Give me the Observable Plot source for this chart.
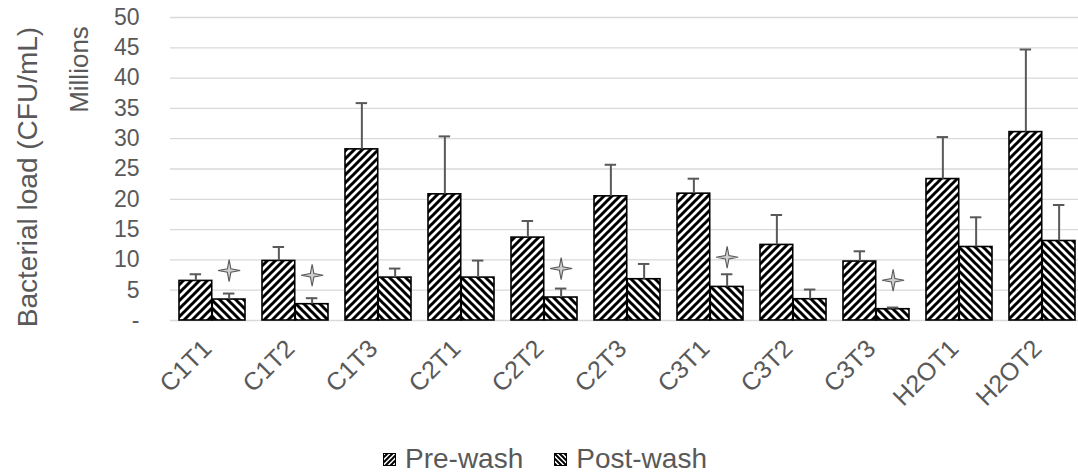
<!DOCTYPE html>
<html>
<head>
<meta charset="utf-8">
<script src="https://cdn.jsdelivr.net/npm/d3@7"></script>
<script src="https://cdn.jsdelivr.net/npm/@observablehq/plot@0.6"></script>
<style>
  html, body { margin: 0; padding: 0; background: #fff; }
  body { width: 1078px; height: 474px; position: relative; overflow: hidden; font-family: "Liberation Sans", Arial, sans-serif; }
  #legend { position: absolute; left: 383px; top: 443px; display: flex; align-items: center; color: #595959; font-size: 28px; white-space: nowrap; }
  #legend .item { display: flex; align-items: center; }
  #legend svg { display: block; margin-right: 9px; }
</style>
</head>
<body>
<svg width="0" height="0" style="position:absolute">
  <defs>
    <pattern id="hatchPre" patternUnits="userSpaceOnUse" width="8" height="8">
      <rect width="8" height="8" fill="#fff"/>
      <path d="M-2,2 l4,-4 M0,8 l8,-8 M6,10 l4,-4" stroke="#000" stroke-width="3"/>
    </pattern>
    <pattern id="hatchPost" patternUnits="userSpaceOnUse" width="8" height="8">
      <rect width="8" height="8" fill="#fff"/>
      <path d="M-2,6 l4,4 M0,0 l8,8 M6,-2 l4,4" stroke="#000" stroke-width="3"/>
    </pattern>
    <pattern id="hatchPreS" patternUnits="userSpaceOnUse" width="5" height="5">
      <rect width="5" height="5" fill="#fff"/>
      <path d="M-1,1 l2,-2 M0,5 l5,-5 M4,6 l2,-2" stroke="#000" stroke-width="2"/>
    </pattern>
    <pattern id="hatchPostS" patternUnits="userSpaceOnUse" width="5" height="5">
      <rect width="5" height="5" fill="#fff"/>
      <path d="M-1,4 l2,2 M0,0 l5,5 M4,-1 l2,2" stroke="#000" stroke-width="2"/>
    </pattern>
  </defs>
</svg>
<div id="chart"></div>
<div id="legend">
  <div class="item"><svg width="13" height="13"><rect x="0.5" y="0.5" width="12" height="12" fill="url(#hatchPreS)" stroke="#000"/></svg><span>Pre-wash</span></div>
  <div class="item" style="margin-left:31px"><svg width="13" height="13"><rect x="0.5" y="0.5" width="12" height="12" fill="url(#hatchPostS)" stroke="#000"/></svg><span>Post-wash</span></div>
</div>
<script>
const categories = ["C1T1","C1T2","C1T3","C2T1","C2T2","C2T3","C3T1","C3T2","C3T3","H2OT1","H2OT2"];
const preWash   = [6.53, 9.83, 28.24, 20.82, 13.68, 20.49, 20.93, 12.47, 9.73, 23.34, 31.09];
const preErr    = [1.10, 2.30, 7.63, 9.56, 2.74, 5.21, 2.47, 4.94, 1.69, 6.93, 13.63];
const postWash  = [3.46, 2.69, 7.08, 7.08, 3.79, 6.81, 5.54, 3.51, 1.86, 12.13, 13.12];
const postErr   = [0.99, 0.99, 1.49, 2.81, 1.48, 2.52, 2.09, 1.60, 0.28, 4.90, 5.94];
const starCats   = ["C1T1","C1T2","C2T2","C3T1","C3T3"];
const starValues = [8.24, 7.47, 8.57, 10.44, 6.64];
const yTicks = [0,5,10,15,20,25,30,35,40,45,50];

const data = categories.map((c, i) => ({cat: c, pre: preWash[i], preErr: preErr[i], post: postWash[i], postErr: postErr[i]}));
const stars = starCats.map((c, i) => ({cat: c, v: starValues[i]}));

// band geometry
const xRange = [170, 1085];
const paddingInner = 0.2, paddingOuter = 0.1;
const step = (xRange[1] - xRange[0]) / (categories.length - paddingInner + 2 * paddingOuter);
const bw = step * (1 - paddingInner);
const q = bw / 4;
const capHalf = 6;

const star4 = {
  draw(ctx, size) {
    const R = Math.sqrt(size / Math.PI);
    const r = R * 0.16;
    ctx.moveTo(0, -R); ctx.lineTo(r, -r); ctx.lineTo(R, 0); ctx.lineTo(r, r);
    ctx.lineTo(0, R); ctx.lineTo(-r, r); ctx.lineTo(-R, 0); ctx.lineTo(-r, -r); ctx.closePath();
  }
};

const textColor = "#595959";
const errColor = "#595959";

const chart = Plot.plot({
  width: 1078,
  height: 442,
  marginLeft: 170,
  marginRight: 0,
  marginTop: 17,
  marginBottom: 122,
  style: {fontFamily: "'Liberation Sans', Arial, sans-serif", color: textColor, background: "#fff"},
  x: {domain: categories, range: xRange, paddingInner, paddingOuter, align: 0.5},
  y: {domain: [0, 50], range: [320, 17]},
  marks: [
    Plot.ruleY(yTicks, {stroke: "#d9d9d9", strokeWidth: 1.3}),
    Plot.barY(data, {x: "cat", y: "pre", fill: "url(#hatchPre)", stroke: "#000", strokeWidth: 1.6, insetRight: bw / 2}),
    Plot.barY(data, {x: "cat", y: "post", fill: "url(#hatchPost)", stroke: "#000", strokeWidth: 1.6, insetLeft: bw / 2}),
    Plot.ruleX(data, {x: "cat", y1: "pre", y2: d => d.pre + d.preErr, dx: -q, stroke: errColor, strokeWidth: 2}),
    Plot.tickY(data, {x: "cat", y: d => d.pre + d.preErr, insetLeft: q - capHalf, insetRight: 3 * q - capHalf, stroke: errColor, strokeWidth: 2}),
    Plot.ruleX(data, {x: "cat", y1: "post", y2: d => d.post + d.postErr, dx: q, stroke: errColor, strokeWidth: 2}),
    Plot.tickY(data, {x: "cat", y: d => d.post + d.postErr, insetLeft: 3 * q - capHalf, insetRight: q - capHalf, stroke: errColor, strokeWidth: 2}),
    Plot.dot(stars, {x: "cat", y: "v", dx: q, symbol: star4, r: 11, fill: "#cfcfcf", stroke: "#595959", strokeWidth: 1.1}),
    Plot.axisY(yTicks, {tickSize: 0, tickPadding: 31, fontSize: 23, fill: textColor, tickFormat: d => d === 0 ? "-" : String(d), label: null}),
    Plot.axisX({tickRotate: -45, tickSize: 0, tickPadding: 24, dx: -5, fontSize: 25, fill: textColor, label: null}),
    Plot.text(["Bacterial load (CFU/mL)"], {frameAnchor: "left", dx: -142, dy: 8, rotate: -90, textAnchor: "middle", lineAnchor: "middle", fontSize: 28, fill: textColor}),
    Plot.text(["Millions"], {frameAnchor: "top-left", dx: -91, dy: 52, rotate: -90, textAnchor: "middle", lineAnchor: "middle", fontSize: 26, fill: textColor})
  ]
});
document.getElementById("chart").appendChild(chart);
</script>
</body>
</html>
